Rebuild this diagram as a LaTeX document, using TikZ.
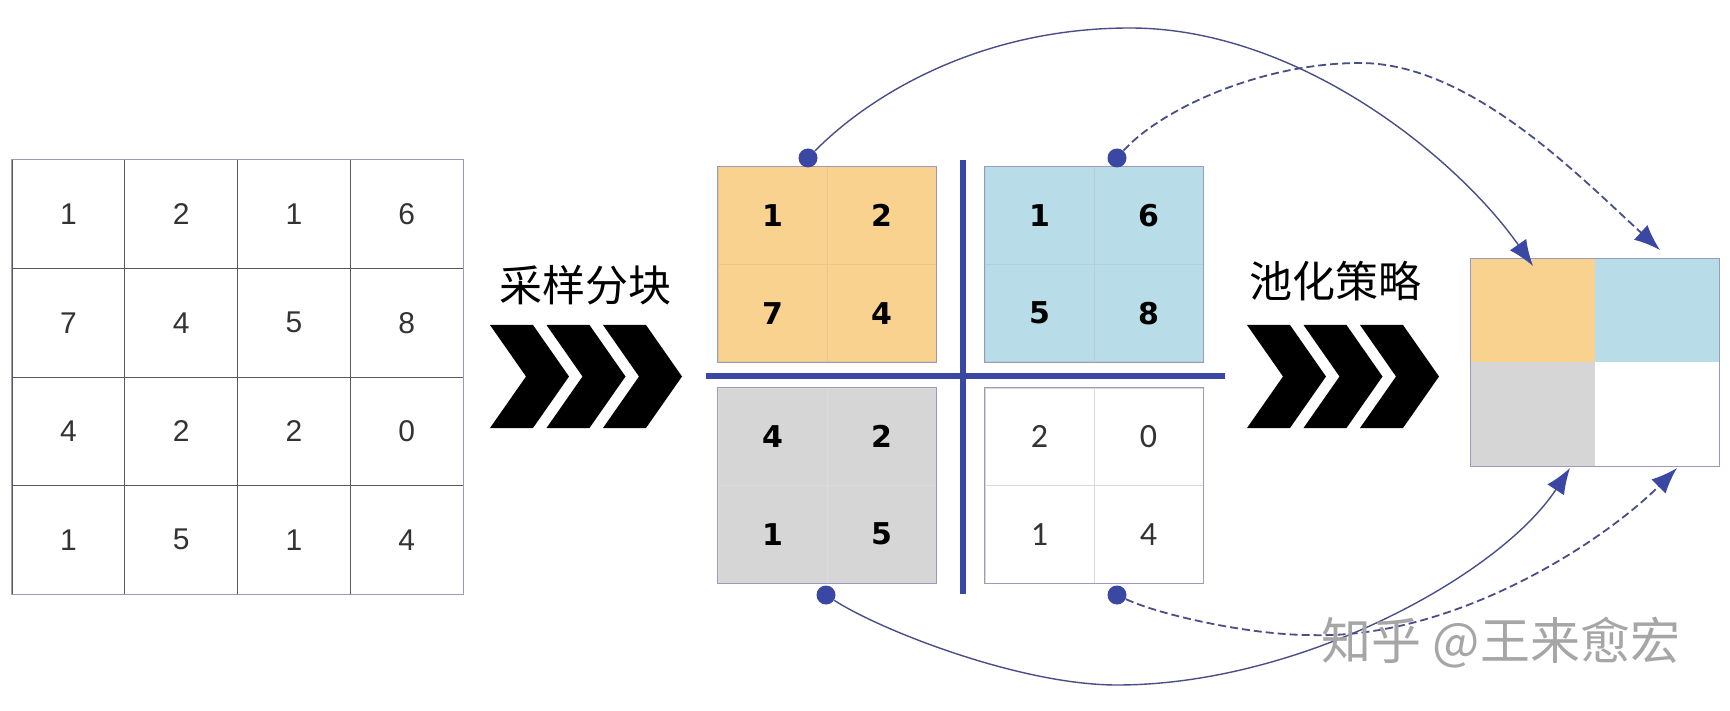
\documentclass[tikz,border=0pt]{standalone}
\usepackage{fontspec}
\usepackage{tikz}
\usetikzlibrary{arrows.meta}
\newfontfamily\policeCJK{Noto Sans CJK SC}
\newfontfamily\policeGrille{Liberation Sans}
\newfontfamily\policeGras{DejaVu Sans}
\newfontfamily\policeFine{Carlito}
\definecolor{bleu}{HTML}{3A48A4}
\definecolor{trait}{HTML}{4A4E88}
\definecolor{cadre}{HTML}{9A9AC0}
\definecolor{jaune}{HTML}{F8D28E}
\definecolor{ciel}{HTML}{B8DDE8}
\definecolor{grisclair}{HTML}{D6D6D6}

\begin{document}
\begin{tikzpicture}[x=0.5pt,y=-0.5pt]
            % Styles
            \tikzstyle{case}=[draw=black!65,line width=0.5pt,minimum width=56.375pt,minimum height=54.25pt,inner sep=0pt,text=black!80,font=\policeGrille\fontsize{15}{18}\selectfont]
            \tikzstyle{bloc}=[line width=0.5pt,minimum width=54.5pt,minimum height=48.75pt,inner sep=0pt,font=\policeGras\bfseries\fontsize{15}{18}\selectfont]
            \tikzstyle{caseO}=[bloc,fill=jaune,draw=jaune!85!gray]
            \tikzstyle{caseC}=[bloc,fill=ciel,draw=ciel!85!gray]
            \tikzstyle{caseG}=[bloc,fill=grisclair,draw=grisclair!85!white]
            \tikzstyle{caseB}=[bloc,fill=white,draw=black!15,text=black!80,font=\policeFine\fontsize{17}{20}\selectfont]
            \tikzstyle{res}=[minimum width=62pt,minimum height=51.75pt,inner sep=0pt]
            \tikzstyle{contour}=[draw=cadre,line width=0.8pt]
            \tikzstyle{separateur}=[draw=bleu,line width=3pt]
            \tikzstyle{point}=[circle,fill=bleu,inner sep=0pt,minimum size=9.5pt]
            \tikzstyle{titre}=[inner sep=0pt,font=\policeCJK\fontsize{21.5}{24}\selectfont]
            \tikzstyle{fleche}=[-{Latex[length=13pt,width=10pt,color=bleu]},draw=trait,line width=0.7pt]
            \tikzstyle{flechepointillee}=[fleche,dash pattern=on 4pt off 2pt,line width=0.9pt]
            % Dimensions
            \def\XM{12}   \def\YM{160}  \def\PasM{112.75} \def\HautM{108.5}
            \def\XO{718}  \def\XC{985}  \def\PasB{109}    \def\HautB{97.5}
            \def\YH{167}  \def\YB{388}
            \def\XR{1471} \def\YR{259}  \def\PasR{124}    \def\HautR{103.5}
            \def\Chevron{-- ++(43,0) -- ++(36,51.5) -- ++(-36,51.5) -- ++(-43,0) -- ++(36,-51.5) -- cycle}
            % Fond
            \fill[white] (0,0) rectangle (1730,711);
            \useasboundingbox (0,0) rectangle (1730,711);
            % Matrice de depart
            \node[case] (M11) at ({\XM+(0.5)*\PasM},{\YM+(0.5)*\HautM}) {1};
            \node[case] (M12) at ({\XM+(1.5)*\PasM},{\YM+(0.5)*\HautM}) {2};
            \node[case] (M13) at ({\XM+(2.5)*\PasM},{\YM+(0.5)*\HautM}) {1};
            \node[case] (M14) at ({\XM+(3.5)*\PasM},{\YM+(0.5)*\HautM}) {6};
            \node[case] (M21) at ({\XM+(0.5)*\PasM},{\YM+(1.5)*\HautM}) {7};
            \node[case] (M22) at ({\XM+(1.5)*\PasM},{\YM+(1.5)*\HautM}) {4};
            \node[case] (M23) at ({\XM+(2.5)*\PasM},{\YM+(1.5)*\HautM}) {5};
            \node[case] (M24) at ({\XM+(3.5)*\PasM},{\YM+(1.5)*\HautM}) {8};
            \node[case] (M31) at ({\XM+(0.5)*\PasM},{\YM+(2.5)*\HautM}) {4};
            \node[case] (M32) at ({\XM+(1.5)*\PasM},{\YM+(2.5)*\HautM}) {2};
            \node[case] (M33) at ({\XM+(2.5)*\PasM},{\YM+(2.5)*\HautM}) {2};
            \node[case] (M34) at ({\XM+(3.5)*\PasM},{\YM+(2.5)*\HautM}) {0};
            \node[case] (M41) at ({\XM+(0.5)*\PasM},{\YM+(3.5)*\HautM}) {1};
            \node[case] (M42) at ({\XM+(1.5)*\PasM},{\YM+(3.5)*\HautM}) {5};
            \node[case] (M43) at ({\XM+(2.5)*\PasM},{\YM+(3.5)*\HautM}) {1};
            \node[case] (M44) at ({\XM+(3.5)*\PasM},{\YM+(3.5)*\HautM}) {4};
            \draw[contour] (M11.north west) rectangle (M44.south east);
            % Etiquettes et chevrons
            \node[titre] (Decoupe) at (585,285) {采样分块};
            \node[titre] (Pooling) at (1335,281) {池化策略};
            \fill[black] (490,325) \Chevron;
            \fill[black] (546.5,325) \Chevron;
            \fill[black] (603,325) \Chevron;
            \fill[black] (1247,325) \Chevron;
            \fill[black] (1303.5,325) \Chevron;
            \fill[black] (1360,325) \Chevron;
            % Blocs 2x2
            \node[caseO] (Oa) at ({\XO+(0.5)*\PasB},{\YH+(0.5)*\HautB}) {1};
            \node[caseO] (Ob) at ({\XO+(1.5)*\PasB},{\YH+(0.5)*\HautB}) {2};
            \node[caseO] (Oc) at ({\XO+(0.5)*\PasB},{\YH+(1.5)*\HautB}) {7};
            \node[caseO] (Od) at ({\XO+(1.5)*\PasB},{\YH+(1.5)*\HautB}) {4};
            \node[caseC] (Ca) at ({\XC+(0.5)*\PasB},{\YH+(0.5)*\HautB}) {1};
            \node[caseC] (Cb) at ({\XC+(1.5)*\PasB},{\YH+(0.5)*\HautB}) {6};
            \node[caseC] (Cc) at ({\XC+(0.5)*\PasB},{\YH+(1.5)*\HautB}) {5};
            \node[caseC] (Cd) at ({\XC+(1.5)*\PasB},{\YH+(1.5)*\HautB}) {8};
            \node[caseG] (Ga) at ({\XO+(0.5)*\PasB},{\YB+(0.5)*\HautB}) {4};
            \node[caseG] (Gb) at ({\XO+(1.5)*\PasB},{\YB+(0.5)*\HautB}) {2};
            \node[caseG] (Gc) at ({\XO+(0.5)*\PasB},{\YB+(1.5)*\HautB}) {1};
            \node[caseG] (Gd) at ({\XO+(1.5)*\PasB},{\YB+(1.5)*\HautB}) {5};
            \node[caseB] (Ba) at ({\XC+(0.5)*\PasB},{\YB+(0.5)*\HautB}) {2};
            \node[caseB] (Bb) at ({\XC+(1.5)*\PasB},{\YB+(0.5)*\HautB}) {0};
            \node[caseB] (Bc) at ({\XC+(0.5)*\PasB},{\YB+(1.5)*\HautB}) {1};
            \node[caseB] (Bd) at ({\XC+(1.5)*\PasB},{\YB+(1.5)*\HautB}) {4};
            \draw[contour] (Oa.north west) rectangle (Od.south east);
            \draw[contour] (Ca.north west) rectangle (Cd.south east);
            \draw[contour] (Ga.north west) rectangle (Gd.south east);
            \draw[contour] (Ba.north west) rectangle (Bd.south east);
            \draw[separateur] (963,160) -- (963,594);
            \draw[separateur] (706,376) -- (1225,376);
            % Resultat
            \node[res,fill=jaune] (Ro) at ({\XR+(0.5)*\PasR},{\YR+(0.5)*\HautR}) {};
            \node[res,fill=ciel] (Rc) at ({\XR+(1.5)*\PasR},{\YR+(0.5)*\HautR}) {};
            \node[res,fill=grisclair] (Rg) at ({\XR+(0.5)*\PasR},{\YR+(1.5)*\HautR}) {};
            \node[res,fill=white] (Rb) at ({\XR+(1.5)*\PasR},{\YR+(1.5)*\HautR}) {};
            \draw[contour] (Ro.north west) rectangle (Rb.south east);
            % Points et arcs
            \node[point] (Po) at (808,158) {};
            \node[point] (Pc) at (1117,158) {};
            \node[point] (Pg) at (826,595) {};
            \node[point] (Pb) at (1117,595) {};
            \coordinate (Fo) at (1533,266);
            \coordinate (Fc) at (1660,250);
            \coordinate (Fg) at (1570,468);
            \coordinate (Fb) at (1677,468);
            \draw[fleche] (Po) .. controls (870,95) and (980,28) .. (1130,28) .. controls (1300,28) and (1459,160) .. (Fo);
            \draw[flechepointillee] (Pc) .. controls (1160,110) and (1260,63) .. (1360,63) .. controls (1470,63) and (1579,176) .. (Fc);
            \draw[fleche] (Pg) .. controls (880,630) and (1020,685) .. (1117,685) .. controls (1300,685) and (1500,575) .. (Fg);
            \draw[flechepointillee] (Pb) .. controls (1160,615) and (1250,635) .. (1310,635) .. controls (1450,640) and (1600,545) .. (Fb);
            % Filigrane
            \node[inner sep=0pt,text=black!35,font=\policeCJK\fontsize{25}{28}\selectfont] (Filigrane) at (1501,643) {知乎 @王来愈宏};
\end{tikzpicture}
\end{document}
